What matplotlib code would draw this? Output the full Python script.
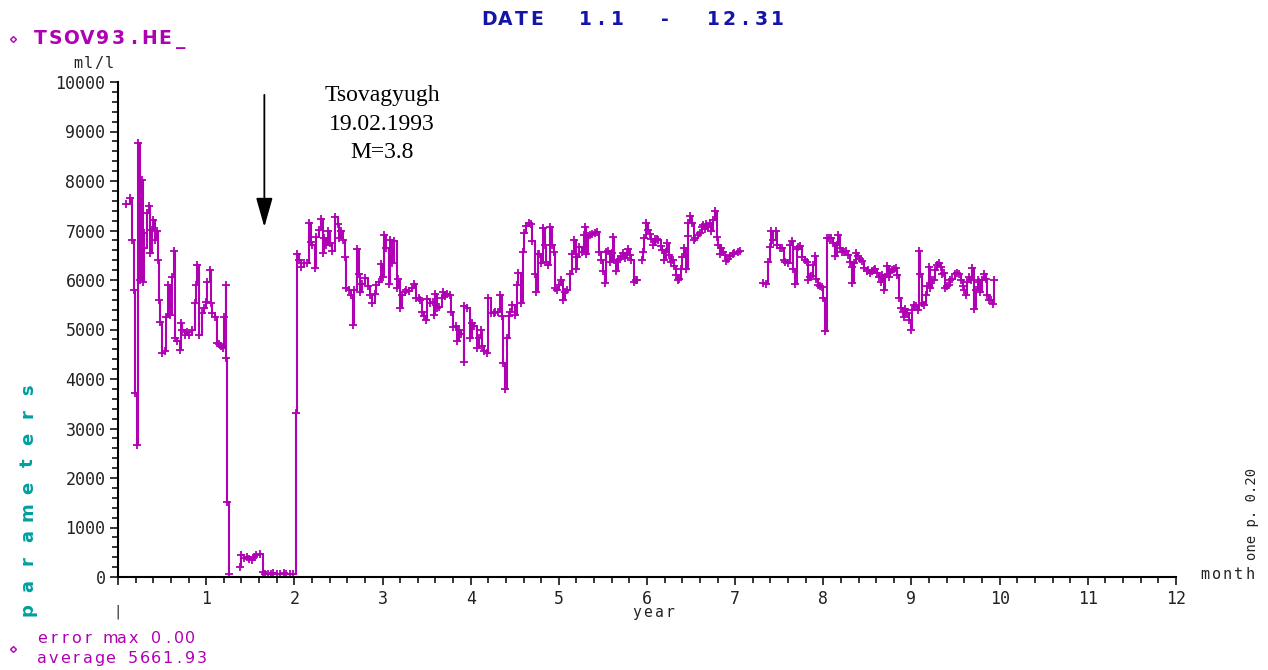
import matplotlib
matplotlib.use("Agg")
import matplotlib.pyplot as plt
from matplotlib.lines import Line2D
from matplotlib.ticker import FuncFormatter, MultipleLocator

W, H = 1268, 670
MAGENTA = "#b000b4"
BLUE = "#1414a8"
TEAL = "#00a0a0"
INK = "#222222"

# helium (ml/l), x in months from 1 Jan; gaps split the series
SEG1_MONTH = [0.09, 0.14, 0.16, 0.18, 0.19, 0.21, 0.23, 0.25, 0.27, 0.28, 0.29, 0.30,
              0.33, 0.35, 0.36, 0.38, 0.40, 0.42, 0.44, 0.45, 0.47, 0.48, 0.50, 0.53,
              0.55, 0.57, 0.59, 0.61, 0.63, 0.65, 0.67, 0.70, 0.71, 0.73, 0.76, 0.78,
              0.81, 0.84, 0.87, 0.88, 0.90, 0.92, 0.95, 0.97, 1.00, 1.01, 1.04, 1.05,
              1.07, 1.10, 1.12, 1.15, 1.17, 1.19, 1.20, 1.22, 1.23, 1.24, 1.26]
SEG1_HE = [7530, 7650, 6800, 5800, 3720, 2670, 8760, 5990, 8020, 5950, 6950, 6640,
           7350, 7490, 6540, 7010, 7210, 6810, 6990, 6400, 5600, 5160, 4525, 4560,
           5260, 5900, 5300, 6070, 6590, 4830, 4770, 4590, 5130, 4980, 4880, 4950,
           4890, 5000, 5530, 5900, 6300, 4880, 5330, 5430, 5560, 5960, 6200, 5530,
           5330, 5260, 4730, 4700, 4660, 4620, 5260, 5900, 4420, 1520, 60]

SEG2_MONTH = [1.38, 1.40, 1.43, 1.46, 1.49, 1.52, 1.54, 1.57, 1.61, 1.64, 1.67, 1.70,
              1.73, 1.76, 1.80, 1.84, 1.88, 1.91, 1.95, 1.99, 2.02,
              2.03, 2.05, 2.08, 2.11, 2.14, 2.17, 2.19, 2.20, 2.23, 2.25, 2.28, 2.30,
              2.32, 2.34, 2.36, 2.38, 2.40, 2.43, 2.46, 2.49, 2.51, 2.53, 2.55, 2.57,
              2.59, 2.62, 2.64, 2.66, 2.68, 2.71, 2.73, 2.75, 2.77, 2.80, 2.83, 2.86,
              2.88, 2.91, 2.93, 2.96, 2.98, 3.01, 3.02, 3.04, 3.07, 3.08, 3.11, 3.13,
              3.16, 3.18, 3.20, 3.22, 3.25, 3.27, 3.30, 3.33, 3.36, 3.38, 3.41, 3.42,
              3.45, 3.47, 3.49, 3.51, 3.54, 3.57, 3.58, 3.60, 3.62, 3.64, 3.67, 3.69,
              3.71, 3.73, 3.76, 3.78, 3.80, 3.83, 3.85, 3.87, 3.89, 3.92, 3.93, 3.96,
              3.99, 4.02, 4.04, 4.07, 4.09, 4.12, 4.13, 4.15, 4.18, 4.20, 4.23, 4.26,
              4.28, 4.31, 4.33, 4.35, 4.37, 4.39, 4.41, 4.43, 4.45, 4.47, 4.50, 4.52,
              4.54, 4.57, 4.59, 4.61, 4.63, 4.66, 4.68, 4.70, 4.73, 4.74, 4.76, 4.78,
              4.80, 4.82, 4.84, 4.86, 4.88, 4.90, 4.92, 4.94, 4.96, 4.98, 5.00, 5.03,
              5.05, 5.07, 5.09, 5.13, 5.15, 5.17, 5.19, 5.21, 5.23, 5.26, 5.28, 5.30,
              5.31, 5.33, 5.35, 5.38, 5.41, 5.43, 5.46, 5.48, 5.50, 5.52, 5.54, 5.56,
              5.58, 5.60, 5.62, 5.63, 5.65, 5.67, 5.69, 5.71, 5.73, 5.75, 5.77, 5.79,
              5.81, 5.82, 5.85, 5.87, 5.89]
SEG2_HE = [210, 440, 380, 410, 360, 350, 400, 440, 470, 110, 70, 60,
           70, 80, 70, 70, 80, 60, 70, 60, 3310,
           6525, 6400, 6260, 6335, 6340, 7160, 6775, 6700, 6235, 6860, 7010, 7225,
           6550, 6850, 6705, 6990, 6740, 6590, 7280, 7140, 6850, 6990, 6800, 6460,
           5830, 5790, 5700, 5090, 5790, 6620, 6130, 5760, 5920, 6045, 5870, 5700,
           5530, 5720, 5900, 5950, 6315, 6060, 6910, 6640, 5920, 6800, 6340, 6790,
           5830, 6030, 5430, 5700, 5760, 5790, 5770, 5830, 5920, 5630, 5630, 5600,
           5360, 5270, 5190, 5620, 5530, 5560, 5290, 5720, 5430, 5460, 5630, 5760,
           5670, 5720, 5700, 5360, 5055, 5070, 4770, 5000, 4900, 4350, 5470, 5430,
           4830, 5130, 5070, 4620, 4830, 5000, 4660, 4570, 4530, 5630, 5330, 5340,
           5360, 5360, 5700, 5270, 4320, 3790, 4830, 5270, 5360, 5500, 5290, 5890,
           6150, 5530, 6570, 6940, 7100, 7160, 7140, 6790, 6130, 5760, 6520, 6530,
           6340, 7060, 6710, 6370, 6310, 7080, 6710, 6570, 5830, 5790, 5890, 6000,
           5590, 5760, 5790, 6130, 6520, 6800, 6230, 6460, 6670, 6570, 6910, 7080,
           6530, 6880, 6910, 6930, 6950, 6960, 6570, 6400, 6190, 5930, 6570, 6590,
           6370, 6550, 6860, 6400, 6190, 6400, 6430, 6480, 6550, 6450, 6550, 6620,
           6500, 6400, 5960, 6010, 6000]

SEG3_MONTH = [5.94, 5.96, 5.97, 5.99, 6.01, 6.03, 6.05, 6.07, 6.09, 6.11, 6.13, 6.16,
              6.17, 6.19, 6.21, 6.23, 6.25, 6.27, 6.29, 6.31, 6.33, 6.35, 6.36, 6.38,
              6.40, 6.42, 6.44, 6.46, 6.47, 6.49, 6.51, 6.53, 6.55, 6.58, 6.60, 6.62,
              6.64, 6.66, 6.67, 6.69, 6.71, 6.73, 6.75, 6.77, 6.79, 6.81, 6.83, 6.84,
              6.86, 6.88, 6.90, 6.92, 6.94, 6.97, 6.99, 7.03, 7.05]
SEG3_HE = [6400, 6570, 6840, 7160, 7010, 6920, 6820, 6710, 6820, 6820, 6800, 6690,
           6600, 6400, 6570, 6750, 6500, 6370, 6400, 6280, 6100, 6010, 6030, 6230,
           6460, 6640, 6230, 6880, 7150, 7290, 7150, 6800, 6840, 6910, 6940, 7080,
           7110, 7040, 7130, 7080, 7150, 6980, 7210, 7400, 6860, 6710, 6520, 6640,
           6570, 6500, 6380, 6430, 6480, 6530, 6550, 6570, 6590]

SEG4_MONTH = [7.32, 7.35, 7.37, 7.39, 7.41, 7.43, 7.46, 7.48, 7.51, 7.53, 7.55, 7.57,
              7.60, 7.62, 7.64, 7.66, 7.68, 7.70, 7.71, 7.74, 7.76, 7.79, 7.81, 7.83,
              7.85, 7.86, 7.88, 7.90, 7.92, 7.94, 7.96, 7.98, 8.00, 8.02, 8.04, 8.06,
              8.09, 8.11, 8.13, 8.15, 8.17, 8.19, 8.21, 8.24, 8.26, 8.28, 8.30, 8.32,
              8.33, 8.35, 8.37, 8.39, 8.42, 8.44, 8.46, 8.49, 8.51, 8.53, 8.55, 8.57,
              8.59, 8.61, 8.63, 8.65, 8.67, 8.69, 8.70, 8.72, 8.74, 8.76, 8.78, 8.80,
              8.82, 8.84, 8.86, 8.88, 8.90, 8.92, 8.93, 8.95, 8.97, 8.99, 9.01, 9.03,
              9.05, 9.07, 9.09, 9.10, 9.12, 9.14, 9.16, 9.18, 9.20, 9.21, 9.23, 9.25,
              9.27, 9.29, 9.31, 9.33, 9.35, 9.37, 9.38, 9.40, 9.42, 9.44, 9.46, 9.49,
              9.52, 9.54, 9.56, 9.58, 9.60, 9.62, 9.63, 9.65, 9.67, 9.69, 9.71, 9.73,
              9.75, 9.77, 9.78, 9.80, 9.82, 9.84, 9.86, 9.88, 9.90, 9.92, 9.94]
SEG4_HE = [5940, 5910, 6370, 6670, 6990, 6800, 6990, 6710, 6640, 6640, 6400, 6370,
           6340, 6710, 6780, 6230, 5910, 6620, 6670, 6690, 6460, 6410, 6370, 6000,
           6060, 6080, 6300, 6480, 6030, 5890, 5870, 5850, 5630, 4960, 6840, 6840,
           6840, 6750, 6480, 6710, 6910, 6640, 6570, 6570, 6590, 6500, 6370, 6260,
           5930, 6340, 6550, 6480, 6430, 6380, 6240, 6190, 6210, 6150, 6190, 6210,
           6220, 6150, 6060, 5960, 6100, 5800, 6060, 6280, 6060, 6170, 6210, 6220,
           6240, 6100, 5640, 5440, 5350, 5260, 5420, 5330, 5190, 4990, 5390, 5500,
           5480, 5390, 6590, 6130, 5530, 5500, 5700, 5870, 6260, 5830, 6000, 6010,
           6210, 6310, 6340, 6260, 6130, 6150, 5830, 5870, 5890, 6000, 6030, 6130,
           6150, 6130, 6000, 5870, 5800, 5700, 5960, 6060, 6000, 6240, 5420, 5800,
           6010, 5960, 5760, 6010, 6120, 6030, 5700, 5600, 5590, 5520, 6000]

SEGMENTS = [(SEG1_MONTH, SEG1_HE), (SEG2_MONTH, SEG2_HE),
            (SEG3_MONTH, SEG3_HE), (SEG4_MONTH, SEG4_HE)]

EVENT_MONTH = 1.66
EVENT_TEXT = "Tsovagyugh\n19.02.1993\nM=3.8"

plt.rcParams["font.family"] = "DejaVu Sans Mono"

fig = plt.figure(figsize=(W / 100, H / 100), dpi=100)
ax = fig.add_axes([118 / W, 1 - 577 / H, 1058 / W, 495 / H])


def pixel_text(x, y, s, pitch, **kw):
    # fixed-pitch placement, mimics the old bitmap screen font
    for i, ch in enumerate(s):
        if ch != " ":
            fig.text((x + i * pitch) / W, 1 - y / H, ch, ha="center", va="baseline", **kw)


for xs, ys in SEGMENTS:
    ax.plot(xs, ys, drawstyle="steps-post", color=MAGENTA, lw=1.5,
            marker="+", ms=6, mew=1.3, clip_on=False)

ax.set_xlim(0, 12)
ax.set_ylim(0, 10000)
for side in ("top", "right"):
    ax.spines[side].set_visible(False)
for side in ("left", "bottom"):
    ax.spines[side].set_linewidth(1.5)
    ax.spines[side].set_color("black")

ax.xaxis.set_major_locator(MultipleLocator(1))
ax.xaxis.set_minor_locator(MultipleLocator(0.2))
ax.yaxis.set_major_locator(MultipleLocator(1000))
ax.yaxis.set_minor_locator(MultipleLocator(200))
ax.xaxis.set_major_formatter(FuncFormatter(lambda v, p: "" if v == 0 else f"{int(round(v))}"))
ax.tick_params(which="major", direction="out", length=6, width=1.1, labelsize=12,
               pad=3, colors="black", labelcolor=INK)
ax.tick_params(which="minor", direction="out", length=4, width=1.1, colors="black")

# event marker and label
ax.annotate("", xy=(EVENT_MONTH, 7070), xytext=(EVENT_MONTH, 9740),
            arrowprops=dict(arrowstyle="-|>,head_length=1.2,head_width=0.34",
                            color="black", lw=1.3, shrinkA=0, shrinkB=0, mutation_scale=15))
fig.text(382 / W, 1 - 85 / H, EVENT_TEXT, ha="center", va="top",
         family="Liberation Serif", fontsize=17, linespacing=1.48, color="black")

# screen-style captions
pixel_text(40, 44, "TSOV93.HE_", 15.6, color=MAGENTA, fontsize=13.5,
           fontweight="bold", family="DejaVu Sans")
pixel_text(489, 25, "DATE  1.1  -  12.31", 16, color=BLUE, fontsize=13.5,
           fontweight="bold", family="DejaVu Sans")
pixel_text(42, 643, "error max 0.00", 11.4, color=MAGENTA, fontsize=11.5, family="DejaVu Sans")
pixel_text(42, 663, "average 5661.93", 11.4, color=MAGENTA, fontsize=11.5, family="DejaVu Sans")
pixel_text(78, 68, "ml/l", 10.5, color=INK, fontsize=11)
pixel_text(637, 617, "year", 11, color=INK, fontsize=10.5)
pixel_text(1205, 579, "month", 11.2, color=INK, fontsize=11)

for i, ch in enumerate("parameters"):
    fig.text(28 / W, 1 - (610 - i * 24.5) / H, ch, rotation=90, ha="center", va="center",
             color=TEAL, fontsize=13, fontweight="bold", family="DejaVu Sans")

fig.text(1252 / W, 1 - 560 / H, "one p. 0.20", rotation=90, ha="center", va="bottom",
         fontsize=10, color=INK)
fig.text(118 / W, 1 - 612 / H, "|", ha="center", va="center", fontsize=10, color=INK)

for yy in (39, 649):
    fig.add_artist(Line2D([13 / W], [1 - yy / H], marker="D", ms=3, mfc="none",
                          mec=MAGENTA, mew=1.0, transform=fig.transFigure))

fig.savefig("out.png", dpi=100, facecolor="white")
